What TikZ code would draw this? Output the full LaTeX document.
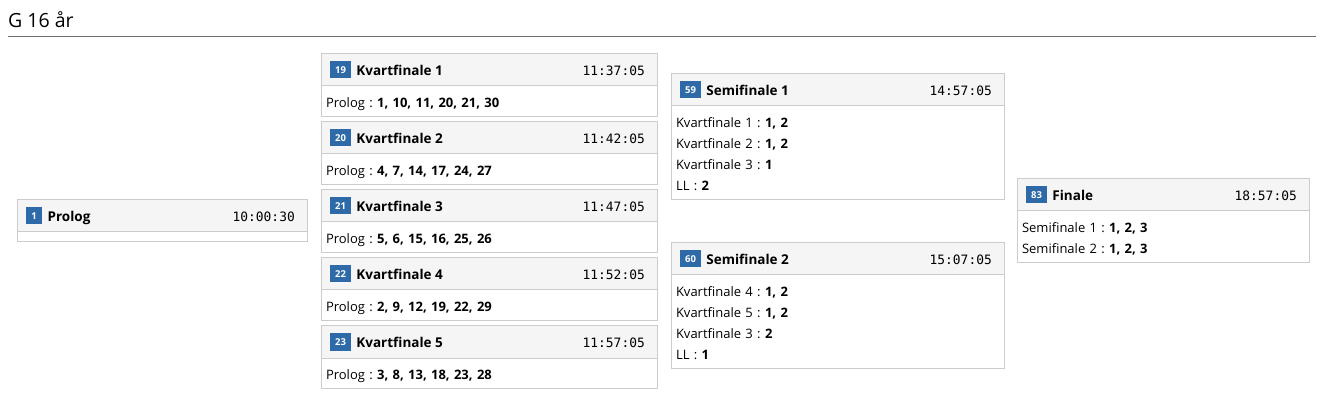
\documentclass[tikz,border=0pt]{standalone}
\usepackage{fontspec}
\setmainfont{Open Sans}
\setmonofont{DejaVu Sans Mono}
\usetikzlibrary{positioning}
\definecolor{boxline}{RGB}{204,204,204}
\definecolor{headfill}{RGB}{245,245,245}
\definecolor{badgeblue}{RGB}{45,106,167}
\definecolor{ruleline}{RGB}{110,110,110}
\newcommand{\bodyfont}{\fontsize{13}{21}\selectfont\frenchspacing}
\newcommand{\titlefont}{\fontsize{13.5}{16}\selectfont\bfseries}
\newcommand{\badgefont}{\fontsize{9.5}{10}\selectfont\bfseries}
\newcommand{\clockfont}{\fontsize{12.9}{15}\selectfont\ttfamily}
\newcommand{\rowstrut}{\rule[-4pt]{0pt}{21pt}}

\begin{document}
\begin{tikzpicture}[x=1pt,y=-1pt]
	\tikzstyle{head} = [rectangle, draw=boxline, fill=headfill, line width=1pt, minimum height=32pt, inner sep=0pt, outer sep=0pt, anchor=north west]
	\tikzstyle{body} = [rectangle, draw=boxline, fill=white, line width=1pt, align=left, inner xsep=5pt, inner ysep=4.8pt, outer sep=0pt, minimum height=9.6pt, font=\bodyfont]
	\tikzstyle{badge} = [rectangle, fill=badgeblue, text=white, minimum height=17pt, minimum width=16pt, inner xsep=5pt, inner ysep=0pt, text height=7pt, text depth=0pt, font=\badgefont]
	\tikzstyle{title} = [inner sep=0pt, text height=11pt, text depth=0pt, font=\titlefont]
	\tikzstyle{clock} = [inner sep=0pt, text height=11pt, text depth=0pt, font=\clockfont]
	\useasboundingbox (0,0) rectangle (1320,403);

	\node (heading) [anchor=base west, inner sep=0pt, font=\fontsize{19.5}{23}\selectfont] at (8,27.5) {G 16 år};
	\coordinate (ruleend) at (1316,37);
	\draw[ruleline, line width=1pt] (heading.west |- ruleend) -- (ruleend);

	% prolog
	\node (proh) [head, minimum width=290pt] at (17,200) {};
	\node (prob) [body, text width=280pt, below=0pt of proh] {};
	\node (pron) [badge, right=9pt of proh.west] {1};
	\node (prot) [title, right=5pt of pron] {Prolog};
	\node (proc) [clock, left=12pt of proh.east] {10:00:30};

	% kvartfinaler
	\node (kf1h) [head, minimum width=336pt] at (321,54) {};
	\node (kf1b) [body, text width=326pt, below=0pt of kf1h] {\rowstrut Prolog : \textbf{1, 10, 11, 20, 21, 30}};
	\node (kf1n) [badge, right=9pt of kf1h.west] {19};
	\node (kf1t) [title, right=5pt of kf1n] {Kvartfinale 1};
	\node (kf1c) [clock, left=12pt of kf1h.east] {11:37:05};

	\node (kf2h) [head, minimum width=336pt] at (321,122) {};
	\node (kf2b) [body, text width=326pt, below=0pt of kf2h] {\rowstrut Prolog : \textbf{4, 7, 14, 17, 24, 27}};
	\node (kf2n) [badge, right=9pt of kf2h.west] {20};
	\node (kf2t) [title, right=5pt of kf2n] {Kvartfinale 2};
	\node (kf2c) [clock, left=12pt of kf2h.east] {11:42:05};

	\node (kf3h) [head, minimum width=336pt] at (321,190) {};
	\node (kf3b) [body, text width=326pt, below=0pt of kf3h] {\rowstrut Prolog : \textbf{5, 6, 15, 16, 25, 26}};
	\node (kf3n) [badge, right=9pt of kf3h.west] {21};
	\node (kf3t) [title, right=5pt of kf3n] {Kvartfinale 3};
	\node (kf3c) [clock, left=12pt of kf3h.east] {11:47:05};

	\node (kf4h) [head, minimum width=336pt] at (321,258) {};
	\node (kf4b) [body, text width=326pt, below=0pt of kf4h] {\rowstrut Prolog : \textbf{2, 9, 12, 19, 22, 29}};
	\node (kf4n) [badge, right=9pt of kf4h.west] {22};
	\node (kf4t) [title, right=5pt of kf4n] {Kvartfinale 4};
	\node (kf4c) [clock, left=12pt of kf4h.east] {11:52:05};

	\node (kf5h) [head, minimum width=336pt] at (321,326) {};
	\node (kf5b) [body, text width=326pt, below=0pt of kf5h] {\rowstrut Prolog : \textbf{3, 8, 13, 18, 23, 28}};
	\node (kf5n) [badge, right=9pt of kf5h.west] {23};
	\node (kf5t) [title, right=5pt of kf5n] {Kvartfinale 5};
	\node (kf5c) [clock, left=12pt of kf5h.east] {11:57:05};

	% semifinaler
	\node (sf1h) [head, minimum width=333pt] at (671,74) {};
	\node (sf1b) [body, text width=323pt, below=0pt of sf1h] {\rowstrut Kvartfinale 1 : \textbf{1, 2}\\
		\rowstrut Kvartfinale 2 : \textbf{1, 2}\\
		\rowstrut Kvartfinale 3 : \textbf{1}\\
		\rowstrut LL : \textbf{2}};
	\node (sf1n) [badge, right=9pt of sf1h.west] {59};
	\node (sf1t) [title, right=5pt of sf1n] {Semifinale 1};
	\node (sf1c) [clock, left=12pt of sf1h.east] {14:57:05};

	\node (sf2h) [head, minimum width=333pt] at (671,243) {};
	\node (sf2b) [body, text width=323pt, below=0pt of sf2h] {\rowstrut Kvartfinale 4 : \textbf{1, 2}\\
		\rowstrut Kvartfinale 5 : \textbf{1, 2}\\
		\rowstrut Kvartfinale 3 : \textbf{2}\\
		\rowstrut LL : \textbf{1}};
	\node (sf2n) [badge, right=9pt of sf2h.west] {60};
	\node (sf2t) [title, right=5pt of sf2n] {Semifinale 2};
	\node (sf2c) [clock, left=12pt of sf2h.east] {15:07:05};

	% finale
	\node (fih) [head, minimum width=292pt] at (1017,179) {};
	\node (fib) [body, text width=282pt, below=0pt of fih] {\rowstrut Semifinale 1 : \textbf{1, 2, 3}\\
		\rowstrut Semifinale 2 : \textbf{1, 2, 3}};
	\node (fin) [badge, right=9pt of fih.west] {83};
	\node (fit) [title, right=5pt of fin] {Finale};
	\node (fic) [clock, left=12pt of fih.east] {18:57:05};
\end{tikzpicture}
\end{document}
